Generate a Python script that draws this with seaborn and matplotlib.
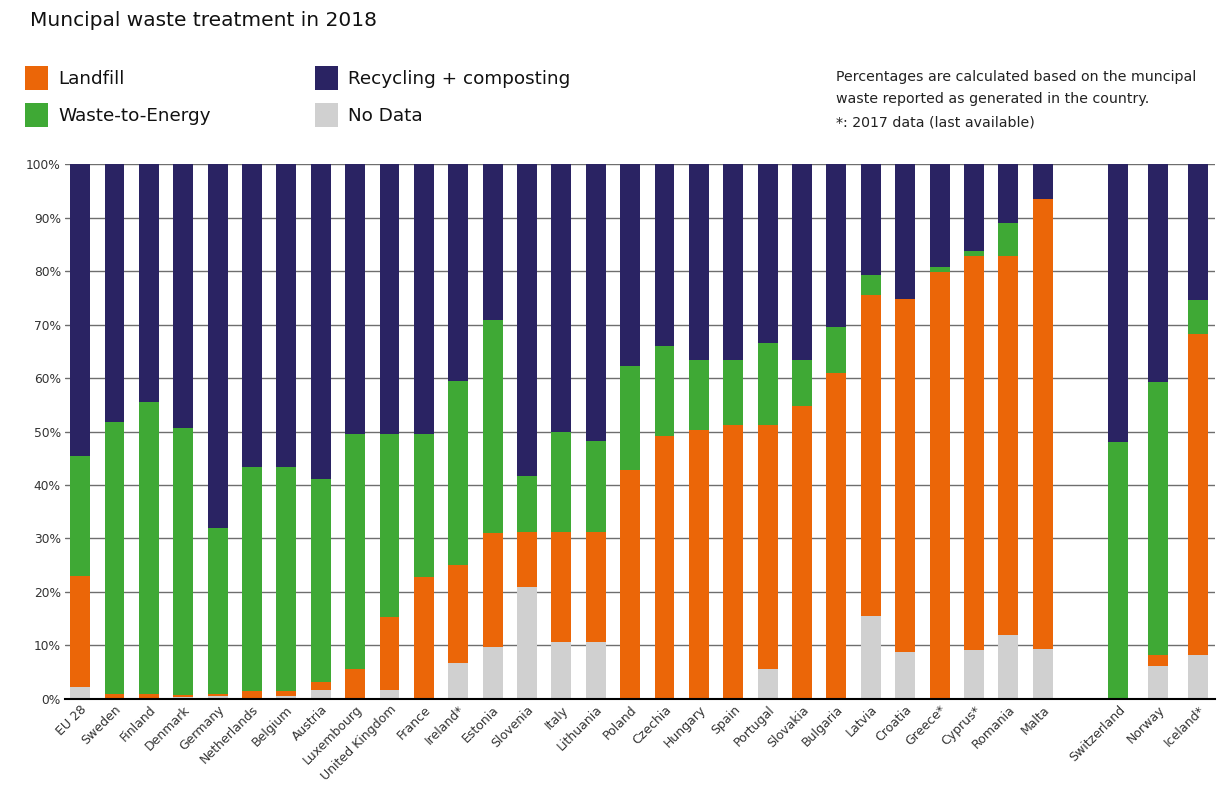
import numpy as np
import pandas as pd
import matplotlib.pyplot as plt
import seaborn as sns
from matplotlib.patches import Patch

# Values (percent of generated municipal waste)
countries = ['EU 28', 'Sweden', 'Finland', 'Denmark', 'Germany', 'Netherlands',
             'Belgium', 'Austria', 'Luxembourg', 'United Kingdom', 'France',
             'Ireland*', 'Estonia', 'Slovenia', 'Italy', 'Lithuania', 'Poland',
             'Czechia', 'Hungary', 'Spain', 'Portugal', 'Slovakia', 'Bulgaria',
             'Latvia', 'Croatia', 'Greece*', 'Cyprus*', 'Romania', 'Malta',
             'Switzerland', 'Norway', 'Iceland*']
no_data = [2.3, 0, 0, 0.3, 0.5, 0, 0.5, 1.6, 0, 1.6, 0,
           6.7, 9.7, 21.0, 10.7, 10.7, 0, 0, 0, 0, 5.6, 0, 0,
           15.5, 8.8, 0, 9.1, 12.0, 9.3,
           0, 6.1, 8.3]
landfill = [20.7, 1.0, 1.0, 0.4, 0.4, 1.4, 1.0, 1.5, 5.6, 13.7, 22.8,
            18.4, 21.4, 10.3, 20.6, 20.6, 42.8, 49.2, 50.3, 51.3, 45.7, 54.8, 61.0,
            60.0, 65.9, 79.8, 73.7, 70.8, 84.2,
            0, 2.2, 60.0]
waste_to_energy = [22.5, 50.7, 54.5, 49.9, 31.0, 41.9, 41.8, 38.0, 43.9, 34.2, 26.7,
                   34.4, 39.8, 10.4, 18.7, 16.9, 19.4, 16.7, 13.0, 12.0, 15.2, 8.5, 8.5,
                   3.8, 0, 1.0, 1.0, 6.2, 0,
                   48.0, 51.0, 6.2]
recycling = [54.5, 48.3, 44.5, 49.4, 68.1, 56.7, 56.7, 58.9, 50.5, 50.5, 50.5,
             40.5, 29.1, 58.3, 50.0, 51.8, 37.8, 34.1, 36.7, 36.7, 33.5, 36.7, 30.5,
             20.7, 25.3, 19.2, 16.2, 11.0, 6.5,
             52.0, 40.7, 25.5]

colors = {'Landfill': '#EB6608', 'Waste-to-Energy': '#3FA935',
          'Recycling + composting': '#2A2363', 'No Data': '#D0D0D0'}

# EU members in one group, non-EU countries after a gap
slots = np.r_[np.arange(29), 30.2 + np.arange(3) * 1.16]

df = pd.DataFrame({'country': countries, 'pos': slots, 'no_data': no_data,
                   'landfill': landfill, 'wte': waste_to_energy, 'rec': recycling})
df['c_nd'] = df['no_data']
df['c_lf'] = df['c_nd'] + df['landfill']
df['c_wte'] = df['c_lf'] + df['wte']
df['c_rec'] = df['c_wte'] + df['rec']

sns.set_style('white')
plt.rcParams['font.family'] = ['DejaVu Sans']

fig = plt.figure(figsize=(12.17, 7.85), dpi=100)
ax = fig.add_axes([0.0534, 0.1096, 0.9446, 0.6814])

# stacked by overplotting cumulative totals, top layer first
for col, name in [('c_rec', 'Recycling + composting'), ('c_wte', 'Waste-to-Energy'),
                  ('c_lf', 'Landfill'), ('c_nd', 'No Data')]:
    sns.barplot(data=df, x='pos', y=col, native_scale=True, color=colors[name],
                saturation=1, width=0.58, errorbar=None, linewidth=0, ax=ax, zorder=2)

ax.set_xlim(-0.44, 33.0)
ax.set_ylim(0, 100)
ax.set_yticks(range(0, 101, 10))
ax.set_yticklabels([f'{v}%' for v in range(0, 101, 10)], fontsize=8.8, color='#333333')
ax.set_xticks(slots)
ax.set_xticklabels(countries, rotation=45, ha='right', rotation_mode='anchor',
                   fontsize=9, color='#333333')
ax.tick_params(length=0, pad=3)
ax.set_xlabel('')
ax.set_ylabel('')
ax.yaxis.grid(True, color='#6e6e6e', lw=1)
ax.set_axisbelow(True)
for s in ['top', 'right', 'left']:
    ax.spines[s].set_visible(False)
ax.spines['bottom'].set_color('black')
ax.spines['bottom'].set_linewidth(1.5)
ax.spines['bottom'].set_zorder(5)

fig.text(30 / 1217, 1 - 21 / 785, 'Muncipal waste treatment in 2018',
         fontsize=14.5, va='center', ha='left', color='#111111')

def make_legend(names, x, y):
    handles = [Patch(facecolor=colors[n], edgecolor='none', label=n) for n in names]
    leg = fig.legend(handles=handles, loc='upper left', bbox_to_anchor=(x, y),
                     frameon=False, fontsize=13.2, handlelength=1.25, handleheight=1.6,
                     handletextpad=0.55, labelspacing=0.75, borderpad=0, borderaxespad=0)
    for t in leg.get_texts():
        t.set_color('#111111')
    return leg

make_legend(['Landfill', 'Waste-to-Energy'], 25 / 1217, 1 - 66 / 785)
make_legend(['Recycling + composting', 'No Data'], 315 / 1217, 1 - 66 / 785)

note = ['Percentages are calculated based on the muncipal',
        'waste reported as generated in the country.',
        '*: 2017 data (last available)']
for i, line in enumerate(note):
    fig.text(836 / 1217, 1 - (77 + i * 22.5) / 785, line, fontsize=10.2,
             va='center', ha='left', color='#222222')

fig.savefig('out.png', dpi=100)
